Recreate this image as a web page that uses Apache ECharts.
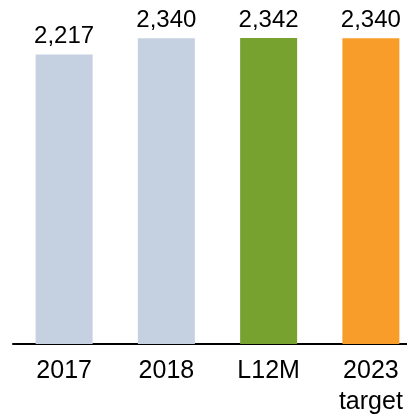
<!DOCTYPE html>
<html>
<head>
	<meta charset="utf-8" />
	<title>bars</title>
	<script src="https://cdn.jsdelivr.net/npm/echarts@6/dist/echarts.min.js"></script>
	<style>html,body{margin:0;padding:0;background:#fff;}</style>
</head>
<body>
	<div id="main" style="width: 407px;height: 417px;"></div>
	<script type="text/javascript">
		// data
		var categories = ['2017', '2018', 'L12M', '2023\ntarget'];
		var values = [2217, 2340, 2342, 2340];
		var barColors = ['#c5d0e1', '#c5d0e1', '#78a22f', '#f99d2a'];

		var myChart = echarts.init(document.getElementById('main'));

		var option = {
			animation: false,
			grid: {
				left: 13,
				right: -15,
				top: 30.5,
				bottom: 73,
				outerBoundsMode: 'none'
			},
			xAxis: {
				type: 'category',
				data: categories,
				axisLine: { lineStyle: { color: '#000', width: 2 } },
				axisTick: { show: false },
				axisLabel: {
					color: '#000',
					fontFamily: 'Liberation Sans',
					fontSize: 25,
					lineHeight: 31,
					margin: 12
				}
			},
			yAxis: {
				type: 'value',
				min: 0,
				max: 2400,
				show: false,
				splitLine: { show: false }
			},
			series: [{
				type: 'bar',
				barWidth: 57,
				data: values.map(function (v, i) {
					return { value: v, itemStyle: { color: barColors[i] } };
				}),
				label: {
					show: true,
					position: 'top',
					distance: 6,
					color: '#000',
					fontFamily: 'Liberation Sans',
					fontSize: 24,
					formatter: function (p) {
						return p.value.toLocaleString('en-US');
					}
				}
			}]
		};

		myChart.setOption(option);
	</script>
</body>
</html>
